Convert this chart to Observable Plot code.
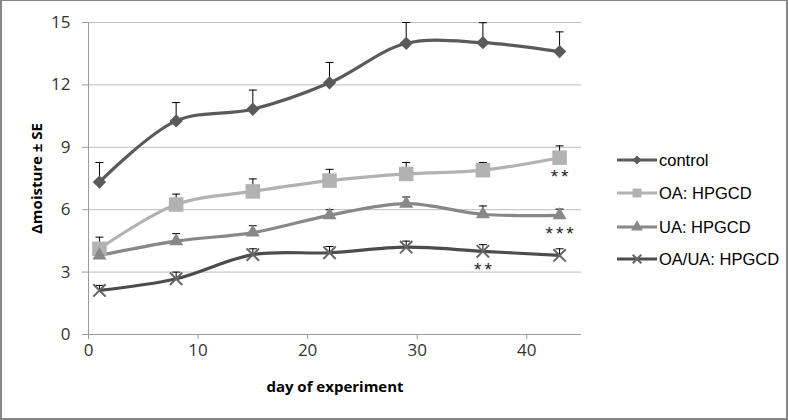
<!DOCTYPE html>
<html>
<head>
<meta charset="utf-8">
<script src="https://cdn.jsdelivr.net/npm/d3@7"></script>
<script src="https://cdn.jsdelivr.net/npm/@observablehq/plot@0.6"></script>
<style>
  html, body { margin: 0; padding: 0; background: #fff; }
  #wrap { position: relative; width: 788px; height: 420px; overflow: hidden; background: #fff; }
  #frame { position: absolute; left: 0; top: 0; width: 788px; height: 420px; box-sizing: border-box;
           border: 2px solid #878787; border-top-width: 1px; pointer-events: none; }
  #legend { position: absolute; left: 0; top: 0; }
  g[aria-label="x-axis label"] text, g[aria-label="y-axis label"] text { font-weight: bold; font-size: 15px; fill: #000; }
  g[aria-label="text"] text { letter-spacing: 3px; }
</style>
</head>
<body>
<div id="wrap"><div id="frame"></div></div>
<script>
// ---- data ----
const days = [1, 8, 15, 22, 29, 36, 43];
const seriesNames = ["control", "OA: HPGCD", "UA: HPGCD", "OA/UA: HPGCD"];
const controlValues = [7.33, 10.27, 10.83, 12.1, 14.0, 14.03, 13.6];
const controlSE     = [0.94, 0.88, 0.92, 0.98, 1.0, 0.96, 0.95];
const oaValues      = [4.12, 6.25, 6.88, 7.4, 7.72, 7.9, 8.5];
const oaSE          = [0.56, 0.5, 0.6, 0.54, 0.55, 0.37, 0.57];
const uaValues      = [3.8, 4.49, 4.9, 5.73, 6.29, 5.78, 5.73];
const uaSE          = [0.35, 0.36, 0.33, 0.27, 0.32, 0.4, 0.3];
const oauaValues    = [2.12, 2.68, 3.84, 3.93, 4.2, 4.0, 3.8];
const oauaSE        = [0.24, 0.32, 0.28, 0.3, 0.29, 0.32, 0.32];
const xTicks = [0, 10, 20, 30, 40];
const yTicks = [0, 3, 6, 9, 12, 15];
// significance marks: series, day, label
const sigSeries = ["OA: HPGCD", "UA: HPGCD", "OA/UA: HPGCD"];
const sigDays   = [43, 43, 36];
const sigLabels = ["**", "***", "**"];

// ---- styles ----
const colors  = ["#5a5a5a", "#b2b2b2", "#888888", "#4c4c4c"];
const markerColors = ["#5a5a5a", "#b2b2b2", "#888888", "#666666"];
const symbols = ["diamond2", "square", "triangle", "times"];
const radii   = [6.0, 8.2, 5.2, 5.7];

const valueSets = [controlValues, oaValues, uaValues, oauaValues];
const seSets = [controlSE, oaSE, uaSE, oauaSE];
const rows = [];
seriesNames.forEach((s, i) => days.forEach((d, j) => rows.push({series: s, idx: i, day: d, value: valueSets[i][j], se: seSets[i][j]})));
const sig = sigSeries.map((s, k) => {
  const i = seriesNames.indexOf(s);
  return {day: sigDays[k], value: valueSets[i][days.indexOf(sigDays[k])], label: sigLabels[k]};
});

const cap = {draw(ctx, size) { const h = Math.sqrt(size / Math.PI); ctx.moveTo(-h, 0); ctx.lineTo(h, 0); }};

const marks = [
  Plot.gridY(yTicks, {stroke: "#bdbdbd", strokeOpacity: 1}),
  Plot.ruleX([0], {stroke: "#9a9a9a"}),
  Plot.ruleY([0], {stroke: "#9a9a9a"}),
  Plot.axisY({ticks: yTicks, tickSize: 6, tickPadding: 12, stroke: "#9a9a9a", fill: "#333",
    label: "Δmoisture ± SE", labelAnchor: "center", labelArrow: "none", labelOffset: 57}),
  Plot.axisX({ticks: xTicks, tickSize: 5, tickPadding: 4, stroke: "#9a9a9a", fill: "#333",
    label: "day of experiment", labelAnchor: "center", labelArrow: "none", labelOffset: 57}),
  Plot.line(rows, {x: "day", y: "value", z: "series", stroke: d => colors[d.idx], strokeWidth: 3.2, curve: "catmull-rom"}),
  Plot.ruleX(rows, {x: "day", y1: "value", y2: d => d.value + d.se, stroke: "#000", strokeWidth: 1}),
  Plot.dot(rows, {x: "day", y: d => d.value + d.se, symbol: cap, r: 4, stroke: "#000", strokeWidth: 1})
];
seriesNames.forEach((s, i) => {
  const data = rows.filter(d => d.idx === i);
  if (symbols[i] === "times") {
    marks.push(Plot.dot(data, {x: "day", y: "value", symbol: "times", r: radii[i], stroke: markerColors[i], strokeWidth: 2}));
  } else {
    marks.push(Plot.dot(data, {x: "day", y: "value", symbol: symbols[i], r: radii[i], fill: markerColors[i], stroke: "none"}));
  }
});
marks.push(Plot.text(sig, {x: "day", y: "value", text: "label", dy: 19, dx: 1.5, fontSize: 19, fill: "#222", fontFamily: "Liberation Sans"}));

const chart = Plot.plot({
  width: 788, height: 420,
  marginLeft: 88, marginRight: 207, marginTop: 22, marginBottom: 86,
  style: {fontFamily: "Open Sans", fontSize: "17px", background: "transparent", color: "#333"},
  x: {domain: [0, 45]},
  y: {domain: [0, 15]},
  marks
});
const wrap = document.getElementById("wrap");
wrap.insertBefore(chart, document.getElementById("frame"));

// ---- legend ----
const leg = d3.select(wrap).insert("svg", "#frame").attr("id", "legend").attr("width", 788).attr("height", 420);
const legY = [160, 193, 227, 259];
const legSizes = [50, 80, 60, 50];
seriesNames.forEach((s, i) => {
  const g = leg.append("g").attr("transform", `translate(0,${legY[i]})`);
  g.append("line").attr("x1", 617).attr("x2", 657).attr("y1", 0).attr("y2", 0).attr("stroke", colors[i]).attr("stroke-width", 3.2);
  const symMap = {diamond2: d3.symbolDiamond2, square: d3.symbolSquare, triangle: d3.symbolTriangle, times: d3.symbolTimes};
  const p = g.append("path").attr("transform", "translate(637,0)").attr("d", d3.symbol(symMap[symbols[i]], legSizes[i])());
  if (symbols[i] === "times") p.attr("fill", "none").attr("stroke", markerColors[i]).attr("stroke-width", 2);
  else p.attr("fill", markerColors[i]);
  g.append("text").attr("x", 659).attr("y", 0).attr("dy", "0.35em").attr("font-family", "Liberation Sans, Arial, sans-serif")
    .attr("font-size", 16.5).attr("fill", "#000").text(s);
});
</script>
</body>
</html>
